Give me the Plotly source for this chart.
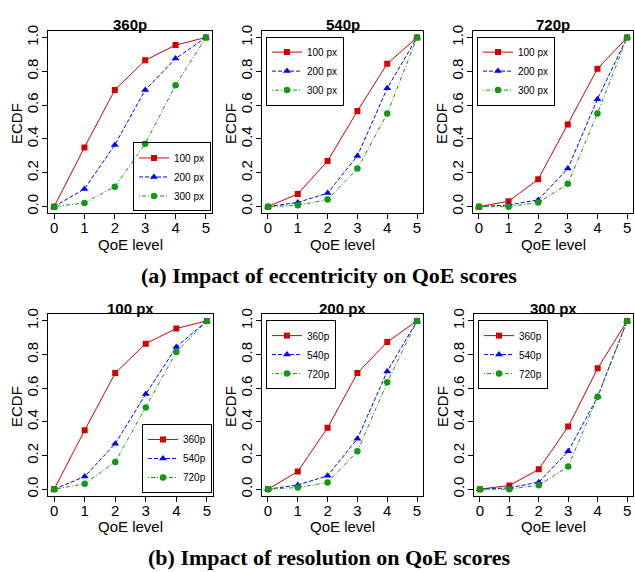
import plotly.graph_objects as go

# ---------------- data ----------------
qoe_levels = [0, 1, 2, 3, 4, 5]

# ECDF per resolution (360p/540p/720p) and eccentricity (100/200/300 px)
ecdf_360p_100px = [0.0, 0.35, 0.69, 0.865, 0.955, 1.0]
ecdf_360p_200px = [0.0, 0.105, 0.365, 0.69, 0.875, 1.0]
ecdf_360p_300px = [0.0, 0.022, 0.118, 0.372, 0.718, 1.0]

ecdf_540p_100px = [0.0, 0.075, 0.27, 0.565, 0.845, 1.0]
ecdf_540p_200px = [0.0, 0.025, 0.08, 0.30, 0.70, 1.0]
ecdf_540p_300px = [0.0, 0.008, 0.042, 0.225, 0.55, 1.0]

ecdf_720p_100px = [0.0, 0.032, 0.162, 0.485, 0.815, 1.0]
ecdf_720p_200px = [0.0, 0.01, 0.04, 0.225, 0.635, 1.0]
ecdf_720p_300px = [0.0, 0.0, 0.024, 0.135, 0.55, 1.0]

resolutions = ["360p", "540p", "720p"]
eccentricities = ["100 px", "200 px", "300 px"]
y_ticks = [0.0, 0.2, 0.4, 0.6, 0.8, 1.0]
y_tick_labels = ["0.0", "0.2", "0.4", "0.6", "0.8", "1.0"]
x_ticks = [0, 1, 2, 3, 4, 5]
x_title = "QoE level"
y_title = "ECDF"
caption_a = "(a) Impact of eccentricity on QoE scores"
caption_b = "(b) Impact of resolution on QoE scores"

table = {
    ("360p", "100 px"): ecdf_360p_100px,
    ("360p", "200 px"): ecdf_360p_200px,
    ("360p", "300 px"): ecdf_360p_300px,
    ("540p", "100 px"): ecdf_540p_100px,
    ("540p", "200 px"): ecdf_540p_200px,
    ("540p", "300 px"): ecdf_540p_300px,
    ("720p", "100 px"): ecdf_720p_100px,
    ("720p", "200 px"): ecdf_720p_200px,
    ("720p", "300 px"): ecdf_720p_300px,
}

# ---------------- styling ----------------
W, H = 635, 572
series_styles = [
    dict(color="#D40000", dash="solid", symbol="square", size=6),
    dict(color="#0000FF", dash="4px,2px", symbol="triangle-up", size=7),
    dict(color="#119A11", dash="1px,2px,4px,2px", symbol="circle", size=6.5),
]

# panel boxes in pixels: (left, right, top, bottom)
boxes = [
    (48, 212, 25, 210), (262, 423, 25, 210), (473, 633, 25, 210),
    (48, 213, 312, 496), (262, 423, 312, 496), (474, 633, 312, 496),
]
# legend anchor positions (pixels) and anchors
legend_pos = [
    (211, 208, "right", "bottom"),
    (266, 31, "left", "top"),
    (477, 31, "left", "top"),
    (212, 493, "right", "bottom"),
    (266, 318, "left", "top"),
    (478, 318, "left", "top"),
]

SANS = "Liberation Sans, Arial, sans-serif"
SERIF = "Liberation Serif, Times New Roman, serif"
TXT = dict(size=15, family=SANS, color="black")

fig = go.Figure()
layout = dict(
    width=W, height=H,
    margin=dict(l=0, r=0, t=0, b=0),
    paper_bgcolor="white", plot_bgcolor="white",
    font=dict(family=SANS, color="black", size=15),
    annotations=[],
)

panels = []
for res in resolutions:
    panels.append((res, [(ecc, table[(res, ecc)]) for ecc in eccentricities]))
for ecc in eccentricities:
    panels.append((ecc, [(res, table[(res, ecc)]) for res in resolutions]))

for i, (title, series) in enumerate(panels):
    n = i + 1
    sfx = "" if n == 1 else str(n)
    xa, ya = "x" + sfx, "y" + sfx
    lg = "legend" + sfx
    for (name, vals), st in zip(series, series_styles):
        fig.add_trace(go.Scatter(
            x=qoe_levels, y=vals, name=name, mode="lines+markers",
            xaxis=xa, yaxis=ya, legend=lg,
            line=dict(color=st["color"], width=1, dash=st["dash"]),
            marker=dict(color=st["color"], symbol=st["symbol"], size=st["size"],
                        line=dict(width=0)),
        ))
    l, r, t, b = boxes[i]
    layout["xaxis" + sfx] = dict(
        domain=[l / W, r / W], anchor=ya, range=[-0.2, 5.2],
        tickmode="array", tickvals=x_ticks, ticks="outside", ticklen=5,
        tickwidth=1, tickcolor="black", showline=True, linecolor="black",
        linewidth=1, mirror=True, showgrid=False, zeroline=False,
        tickfont=TXT, ticklabelstandoff=-4, fixedrange=True,
    )
    layout["yaxis" + sfx] = dict(
        domain=[1 - b / H, 1 - t / H], anchor=xa, range=[-0.04, 1.04],
        tickmode="array", tickvals=y_ticks, ticktext=y_tick_labels,
        tickangle=-90, ticks="outside", ticklen=5, tickwidth=1,
        tickcolor="black", showline=True, linecolor="black", linewidth=1,
        mirror=True, showgrid=False, zeroline=False,
        tickfont=TXT, ticklabelstandoff=-2, fixedrange=True,
    )
    lx, ly, xanc, yanc = legend_pos[i]
    layout[lg] = dict(
        x=lx / W, y=1 - ly / H, xanchor=xanc, yanchor=yanc,
        xref="paper", yref="paper",
        bgcolor="rgba(255,255,255,0)", bordercolor="black", borderwidth=1,
        font=dict(size=10, family=SANS, color="black"),
        tracegroupgap=0, itemwidth=30,
    )
    # panel title
    layout["annotations"].append(dict(
        text="<b>" + title + "</b>", x=(l + r) / 2 / W, y=1 - (t - 6) / H,
        xref="paper", yref="paper", xanchor="center", yanchor="middle",
        showarrow=False, font=TXT,
    ))
    # x axis title
    layout["annotations"].append(dict(
        text=x_title, x=(l + r) / 2 / W, y=1 - (b + 31) / H,
        xref="paper", yref="paper", xanchor="center", yanchor="middle",
        showarrow=False, font=TXT,
    ))
    # y axis title
    layout["annotations"].append(dict(
        text=y_title, x=(l - 32) / W, y=1 - ((t + b) / 2 + 2) / H,
        xref="paper", yref="paper", xanchor="center", yanchor="middle",
        textangle=-90, showarrow=False, font=TXT,
    ))

layout["annotations"].append(dict(
    text="<b>" + caption_a + "</b>", x=329 / W, y=1 - 273 / H,
    xref="paper", yref="paper", xanchor="center", yanchor="middle",
    showarrow=False, font=dict(size=22, family=SERIF, color="black"),
))
layout["annotations"].append(dict(
    text="<b>" + caption_b + "</b>", x=329 / W, y=1 - 558 / H,
    xref="paper", yref="paper", xanchor="center", yanchor="middle",
    showarrow=False, font=dict(size=22, family=SERIF, color="black"),
))

fig.update_layout(**layout)
fig.write_html(
    "out.html",
    config={"displayModeBar": False},
    post_script="document.body.style.margin='0';document.body.style.overflow='hidden';",
)
